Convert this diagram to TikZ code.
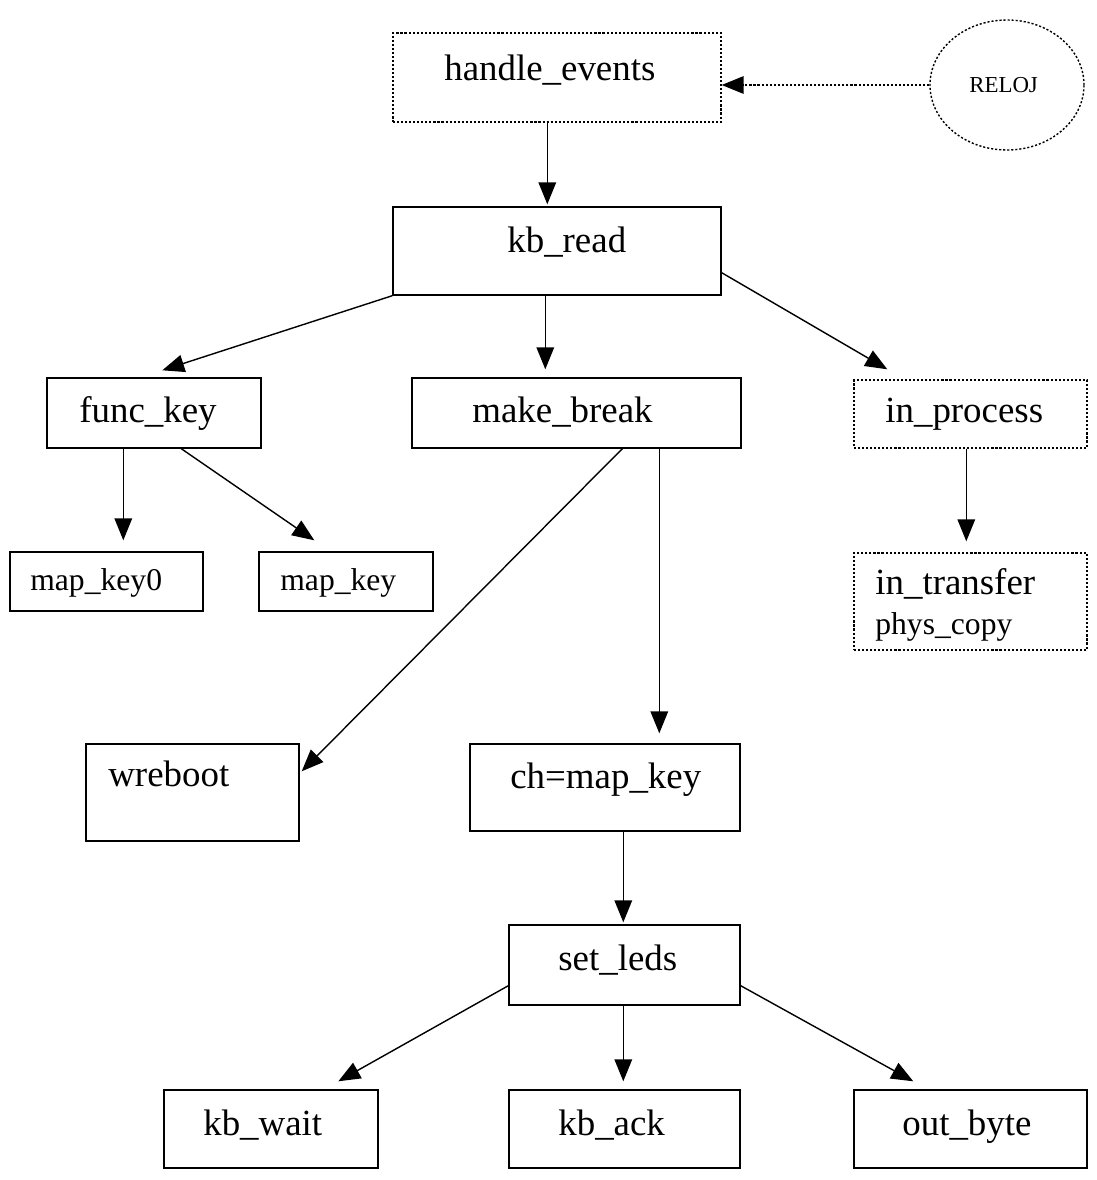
\documentclass[tikz,border=0pt]{standalone}
\usepackage{fontspec}
\setmainfont{Liberation Serif}
\usepackage{tikz}
\usetikzlibrary{calc,fit,arrows.meta}
\usepgflibrary{shapes.geometric}

\tikzset{
  caja/.style={draw, rectangle, inner sep=0pt, line width=0.8pt},
  cajapunteada/.style={caja, dash pattern=on 1.2pt off 1.1pt},
  texto/.style={anchor=base west, inner sep=0pt, font=\fontsize{21}{25}\selectfont},
  textochico/.style={texto, font=\fontsize{18}{21}\selectfont},
  flecha/.style={line width=0.8pt, -{Triangle[length=12.5pt,width=10pt]}},
}

\begin{document}
\begin{tikzpicture}[x=0.02cm, y=-0.02cm]
  \useasboundingbox (0,0) rectangle (1096,1180);

  % Cajas
  \node[cajapunteada, fit={(393,33) (721,122)}] (eventos) {};
  \node[draw, ellipse, inner sep=0pt, line width=0.8pt, dash pattern=on 1.2pt off 1.1pt,
        minimum width=154*0.02cm, minimum height=130*0.02cm] (reloj) at (1007,85) {};
  \node[caja, fit={(393,207) (721,295)}] (kbread) {};
  \node[caja, fit={(47,378) (261,448)}] (funckey) {};
  \node[caja, fit={(412,378) (741,448)}] (makebreak) {};
  \node[cajapunteada, fit={(854,380) (1087,448)}] (inprocess) {};
  \node[caja, fit={(10,552) (203,611)}] (mapkeycero) {};
  \node[caja, fit={(259,552) (433,611)}] (mapkey) {};
  \node[cajapunteada, fit={(854,553) (1087,650)}] (intransfer) {};
  \node[caja, fit={(86,744) (299,841)}] (wreboot) {};
  \node[caja, fit={(470,744) (740,831)}] (chmapkey) {};
  \node[caja, fit={(509,925) (740,1005)}] (setleds) {};
  \node[caja, fit={(164,1090) (378,1168)}] (kbwait) {};
  \node[caja, fit={(509,1090) (740,1168)}] (kback) {};
  \node[caja, fit={(854,1090) (1087,1168)}] (outbyte) {};

  % Textos
  \node[texto] (t-eventos) at (444,80) {handle\_events};
  \node[texto, font=\fontsize{13}{15}\selectfont] (t-reloj) at (969,92) {RELOJ};
  \node[texto] (t-kbread) at (507,252) {kb\_read};
  \node[texto] (t-funckey) at (79,422) {func\_key};
  \node[texto] (t-makebreak) at (472,422) {make\_break};
  \node[texto] (t-inprocess) at (885,422) {in\_process};
  \node[textochico] (t-mapkeycero) at (30,590) {map\_key0};
  \node[textochico] (t-mapkey) at (280,590) {map\_key};
  \node[texto] (t-intransfer) at (875,594) {in\_transfer};
  \node[textochico] (t-physcopy) at (875,634) {phys\_copy};
  \node[texto] (t-wreboot) at (108,786) {wreboot};
  \node[texto] (t-chmapkey) at (510,788) {ch=map\_key};
  \node[texto] (t-setleds) at (558,970) {set\_leds};
  \node[texto] (t-kbwait) at (203,1135) {kb\_wait};
  \node[texto] (t-kback) at (558,1135) {kb\_ack};
  \node[texto] (t-outbyte) at (902,1135) {out\_byte};

  % Flechas
  \draw[flecha, dash pattern=on 1.2pt off 1.1pt] (reloj.west) -- (reloj.west -| eventos.east);
  \draw[flecha] ($(eventos.south west)+(155,0)$) -- ($(kbread.north west)+(155,-2)$);
  \draw[flecha] (kbread.south west) -- ($(funckey.north west)+(116,-7)$);
  \draw[flecha] ($(kbread.south west)+(153,0)$) -- ($(makebreak.north west)+(134,-8)$);
  \draw[flecha] ($(kbread.south east)+(0,-23)$) -- ($(inprocess.north west)+(34,-10)$);
  \draw[flecha] ($(funckey.south west)+(77,0)$) -- ($(mapkeycero.north west)+(114,-11)$);
  \draw[flecha] ($(funckey.south west)+(135,0)$) -- ($(mapkey.north west)+(56,-11)$);
  \draw[flecha] ($(inprocess.south west)+(113,0)$) -- ($(intransfer.north west)+(113,-11)$);
  \draw[flecha] ($(makebreak.south west)+(211,0)$) -- ($(wreboot.north east)+(2,28)$);
  \draw[flecha] ($(makebreak.south west)+(248,0)$) -- ($(chmapkey.north west)+(190,-10)$);
  \draw[flecha] ($(chmapkey.south west)+(154,0)$) -- ($(setleds.north west)+(115,-2)$);
  \draw[flecha] ($(setleds.south west)+(0,-20)$) -- ($(kbwait.north west)+(175,-8)$);
  \draw[flecha] ($(setleds.south west)+(115,0)$) -- ($(kback.north west)+(115,-8)$);
  \draw[flecha] ($(setleds.south east)+(0,-20)$) -- ($(outbyte.north west)+(60,-8)$);

\end{tikzpicture}
\end{document}
